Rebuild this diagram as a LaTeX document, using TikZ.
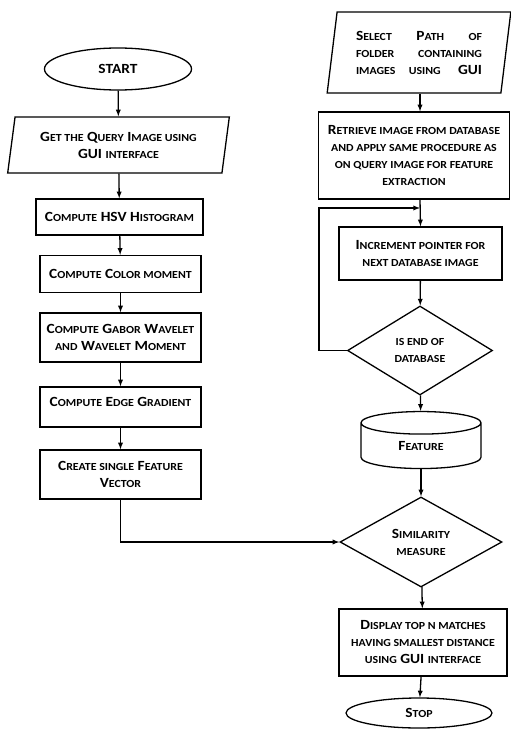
\documentclass[tikz,border=0pt]{standalone}
\usepackage{fontspec}
\setmainfont{Carlito}[FakeStretch=1.1]
\usetikzlibrary{positioning, calc, shapes.geometric, shapes.symbols}
\newcommand{\sm}[1]{{\fontsize{10.8}{17}\selectfont #1}}

\begin{document}
\begin{tikzpicture}[x=1pt, y=-1pt, line width=1.3pt,
		font=\bfseries\fontsize{14}{17}\selectfont,
		procbox/.style={draw, align=center, inner sep=1pt},
		iobox/.style={draw, trapezium, trapezium stretches=true, align=center, inner sep=0pt},
		decision/.style={draw, diamond, align=center, inner sep=0pt},
		terminal/.style={draw, ellipse, inner sep=0pt}]
	\useasboundingbox (0,0) rectangle (511,731);
	% left column
	\node (0) at (118, 69) [terminal, minimum width=147, minimum height=42] {START};
	\node (1) at (118.5, 145) [iobox, trapezium left angle=78, trapezium right angle=102, minimum width=222, minimum height=56] {G\sm{ET THE} Q\sm{UERY} I\sm{MAGE USING}\\GUI \sm{INTERFACE}};
	\node (2) at (119.5, 217) [procbox, minimum width=167, minimum height=36] {C\sm{OMPUTE} HSV H\sm{ISTOGRAM}};
	\node (3) at (120.5, 274) [procbox, minimum width=161, minimum height=37] {C\sm{OMPUTE} C\sm{OLOR MOMENT}};
	\node (4) at (120.5, 337.5) [procbox, minimum width=161, minimum height=49] {C\sm{OMPUTE} G\sm{ABOR} W\sm{AVELET}\\\sm{AND} W\sm{AVELET} M\sm{OMENT}};
	\node (5) at (120.5, 407) [procbox, minimum width=161, minimum height=40, text depth=10pt] {C\sm{OMPUTE} E\sm{DGE} G\sm{RADIENT}};
	\node (6) at (120.5, 474.5) [procbox, minimum width=161, minimum height=49] {C\sm{REATE SINGLE} F\sm{EATURE}\\V\sm{ECTOR}};
	% right column
	\node (7) at (419, 52.5) [iobox, trapezium left angle=80, trapezium right angle=100, minimum width=184, minimum height=81] {\makebox[126pt][s]{S\sm{ELECT} P\sm{ATH} \sm{OF}}\\\makebox[126pt][s]{\sm{FOLDER CONTAINING}}\\\makebox[126pt][s]{\sm{IMAGES USING} GUI}};
	\node (8) at (414, 155.5) [procbox, minimum width=191, minimum height=87] {R\sm{ETRIEVE IMAGE FROM DATABASE}\\\sm{AND APPLY SAME PROCEDURE AS}\\\sm{ON QUERY IMAGE FOR FEATURE}\\\sm{EXTRACTION}};
	\node (9) at (420.5, 253.5) [procbox, minimum width=163, minimum height=53] {I\sm{NCREMENT POINTER FOR}\\\sm{NEXT DATABASE IMAGE}};
	\node (10) at (420, 350.5) [decision, aspect=1.63, minimum width=145, minimum height=89] {\sm{IS END OF}\\\sm{DATABASE}};
	\node (11) at (421, 446) [draw, cylinder, shape border rotate=90, aspect=0.5, minimum width=120, minimum height=57, inner sep=0pt] {F\sm{EATURE}};
	\node (12) at (421, 542) [decision, aspect=1.8, minimum width=162, minimum height=90] {S\sm{IMILARITY}\\\sm{MEASURE}};
	\node (13) at (423, 642.5) [procbox, minimum width=168, minimum height=67] {D\sm{ISPLAY TOP N MATCHES}\\\sm{HAVING SMALLEST DISTANCE}\\\sm{USING} GUI \sm{INTERFACE}};
	\node (14) at (419, 713) [terminal, minimum width=146, minimum height=30] {S\sm{TOP}};
	\coordinate (loop) at (420, 208);

	\draw[-latex] (0) to (1);
	\draw[-latex] (1) to (2);
	\draw[-latex] (2) to (3);
	\draw[-latex] (3) to (4);
	\draw[-latex] (4) to (5);
	\draw[-latex] (5) to (6);
	\draw[-latex] (7.south -| loop) to (8.north -| loop);
	\draw[-latex] (8.south -| loop) to (9.north);
	\draw[-latex] (10.west) -- ++(-28, 0) |- (loop);
	\draw[-latex] (9) to (10);
	\draw[-latex] (10) to (11);
	\draw[-latex] (11) to (12);
	\draw[-latex] (12) to (13);
	\draw[-latex] (13) to (14);
	\draw[-latex] (6.south) |- (12.west);
\end{tikzpicture}
\end{document}
